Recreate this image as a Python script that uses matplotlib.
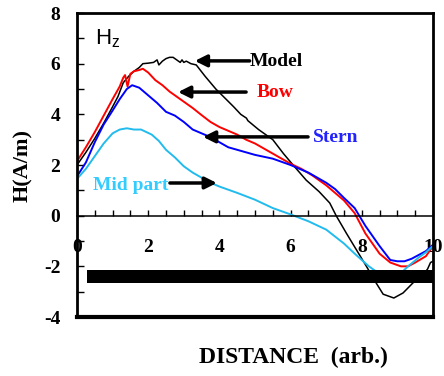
import matplotlib
matplotlib.use('Agg')
import matplotlib.pyplot as plt
from matplotlib.ticker import MultipleLocator

# curves (distance, H)
model_x = [0, 0.25, 0.5, 0.75, 1.0, 1.15, 1.3, 1.45, 1.6, 1.75, 1.85, 2.0, 2.15, 2.25, 2.3, 2.4, 2.5, 2.6, 2.7, 2.8, 2.9, 2.95, 3.0, 3.07, 3.2, 3.35, 3.6, 3.9, 4.15, 4.4, 4.6, 4.76, 4.8, 5.1, 5.5, 5.8, 6.07, 6.44, 6.8, 7.1, 7.28, 7.57, 7.85, 8.13, 8.4, 8.6, 8.9, 9.16, 9.44, 9.7, 9.85, 9.93, 10.0]
model_y = [2.0, 2.5, 3.05, 3.65, 4.3, 4.7, 5.25, 5.5, 5.7, 5.85, 6.0, 6.02, 6.05, 6.15, 5.95, 6.1, 6.2, 6.25, 6.25, 6.15, 6.05, 6.15, 6.05, 6.1, 6.0, 5.95, 5.5, 5.0, 4.65, 4.3, 4.0, 3.85, 3.75, 3.4, 3.0, 2.45, 2.0, 1.4, 0.95, 0.5, 0.0, -0.7, -1.35, -2.0, -2.65, -3.1, -3.25, -3.05, -2.65, -2.4, -2.1, -1.85, -1.8]

bow_x = [0, 0.25, 0.5, 0.75, 1.0, 1.2, 1.3, 1.35, 1.42, 1.5, 1.6, 1.75, 1.85, 2.0, 2.2, 2.4, 2.6, 2.8, 3.0, 3.25, 3.5, 3.75, 4.0, 4.25, 4.5, 4.75, 5.0, 5.25, 5.5, 5.75, 6.0, 6.3, 6.6, 7.0, 7.25, 7.5, 7.8, 8.1, 8.3, 8.5, 8.8, 9.1, 9.3, 9.5, 9.8, 10.0]
bow_y = [2.15, 2.7, 3.3, 3.95, 4.6, 5.1, 5.45, 5.55, 5.1, 5.6, 5.7, 5.75, 5.8, 5.65, 5.35, 5.15, 4.9, 4.7, 4.5, 4.25, 3.97, 3.7, 3.5, 3.35, 3.2, 3.0, 2.85, 2.65, 2.45, 2.25, 2.05, 1.85, 1.6, 1.2, 0.9, 0.6, 0.1, -0.7, -1.1, -1.5, -1.85, -2.0, -2.0, -1.85, -1.6, -1.2]

stern_x = [0, 0.25, 0.5, 0.75, 1.0, 1.2, 1.4, 1.55, 1.75, 2.0, 2.25, 2.5, 2.75, 3.0, 3.25, 3.5, 3.75, 4.0, 4.25, 4.5, 4.75, 5.0, 5.5, 6.0, 6.5, 7.0, 7.25, 7.5, 7.8, 8.1, 8.3, 8.5, 8.8, 9.0, 9.2, 9.4, 9.6, 9.8, 10.0]
stern_y = [1.55, 2.1, 2.9, 3.6, 4.15, 4.6, 5.0, 5.15, 5.05, 4.75, 4.45, 4.1, 3.95, 3.7, 3.4, 3.25, 3.1, 2.9, 2.7, 2.6, 2.5, 2.4, 2.25, 2.0, 1.7, 1.3, 1.05, 0.7, 0.3, -0.4, -0.8, -1.2, -1.75, -1.8, -1.8, -1.7, -1.55, -1.4, -1.15]

mid_x = [0, 0.25, 0.5, 0.75, 1.0, 1.2, 1.4, 1.6, 1.8, 2.1, 2.3, 2.5, 2.75, 3.0, 3.25, 3.5, 3.75, 4.0, 4.5, 5.0, 5.5, 6.0, 6.5, 7.0, 7.5, 7.8, 8.2, 8.5, 8.75, 9.0, 9.3, 9.6, 9.8, 10.0]
mid_y = [1.45, 1.85, 2.35, 2.85, 3.25, 3.4, 3.45, 3.4, 3.4, 3.2, 2.95, 2.6, 2.3, 1.95, 1.7, 1.5, 1.3, 1.15, 0.9, 0.63, 0.3, 0.05, -0.22, -0.55, -1.1, -1.5, -2.0, -2.3, -2.4, -2.4, -2.0, -1.65, -1.45, -1.2]

x_ticks = [0, 2, 4, 6, 8, 10]
y_ticks = [-4, -2, 0, 2, 4, 6, 8]

serif = 'Liberation Serif'

fig = plt.figure(figsize=(4.44, 3.76), dpi=100)
ax = fig.add_axes([0.1734, 0.1569, 0.8018, 0.8085])

ax.plot(model_x, model_y, color='black', lw=1.1)
ax.plot(bow_x, bow_y, color='#ff0000', lw=1.4)
ax.plot(stern_x, stern_y, color='#0000ff', lw=1.4)
ax.plot(mid_x, mid_y, color='#22bbee', lw=1.4)

# black bar near the bottom
ax.fill_between([0.28, 10], -2.65, -2.15, color='black', lw=0, zorder=5)

ax.set_xlim(0, 10)
ax.set_ylim(-4, 8)

for s in ['left', 'right', 'top']:
    ax.spines[s].set_linewidth(2)
ax.spines['bottom'].set_position(('data', 0))
ax.spines['bottom'].set_linewidth(1.1)
ax.plot([0, 1], [0, 0], transform=ax.transAxes, color='black', lw=3, clip_on=False, zorder=6)

ax.xaxis.set_major_locator(MultipleLocator(2))
ax.xaxis.set_minor_locator(MultipleLocator(0.5))
ax.yaxis.set_major_locator(MultipleLocator(2))
ax.yaxis.set_minor_locator(MultipleLocator(1))
ax.tick_params(axis='x', which='both', direction='in', length=4, width=1, pad=17)
ax.tick_params(axis='y', which='both', direction='in', length=5, width=1, pad=12)
ax.set_xticks(x_ticks)
ax.set_yticks(y_ticks)
ax.set_xticklabels([str(v) for v in x_ticks], fontfamily=serif, fontweight='bold', fontsize=14)
ax.set_yticklabels([str(v) for v in y_ticks], fontfamily=serif, fontweight='bold', fontsize=14)

ax.set_ylabel('H(A/m)', fontfamily=serif, fontweight='bold', fontsize=16, labelpad=8)
fig.text(0.66, 0.048, 'DISTANCE  (arb.)', fontfamily=serif, fontweight='bold', fontsize=17,
         ha='center', va='center')

ax.text(0.5, 7.0, r'$\mathregular{H_z}$', fontfamily='Liberation Sans', fontsize=16, va='center')

arrow = dict(arrowstyle='-|>,head_length=0.7,head_width=0.35', lw=2.5, color='black', shrinkA=0, shrinkB=0)
ax.annotate('', xy=(3.31, 6.11), xytext=(4.85, 6.11), arrowprops=arrow)
ax.annotate('', xy=(2.84, 4.88), xytext=(4.75, 4.88), arrowprops=arrow)
ax.annotate('', xy=(3.54, 3.11), xytext=(6.49, 3.11), arrowprops=arrow)
ax.annotate('', xy=(3.93, 1.29), xytext=(2.61, 1.29), arrowprops=arrow)

ax.text(4.86, 6.1, 'Model', color='black', fontfamily=serif, fontweight='bold', fontsize=14, va='center')
ax.text(5.05, 4.88, 'Bow', color='#ff0000', fontfamily=serif, fontweight='bold', fontsize=14, va='center')
ax.text(6.63, 3.1, 'Stern', color='#2222ff', fontfamily=serif, fontweight='bold', fontsize=14, va='center')
ax.text(2.58, 1.2, 'Mid part', color='#33ccff', fontfamily=serif, fontweight='bold', fontsize=14,
        va='center', ha='right')

fig.savefig('out.png', dpi=100)
